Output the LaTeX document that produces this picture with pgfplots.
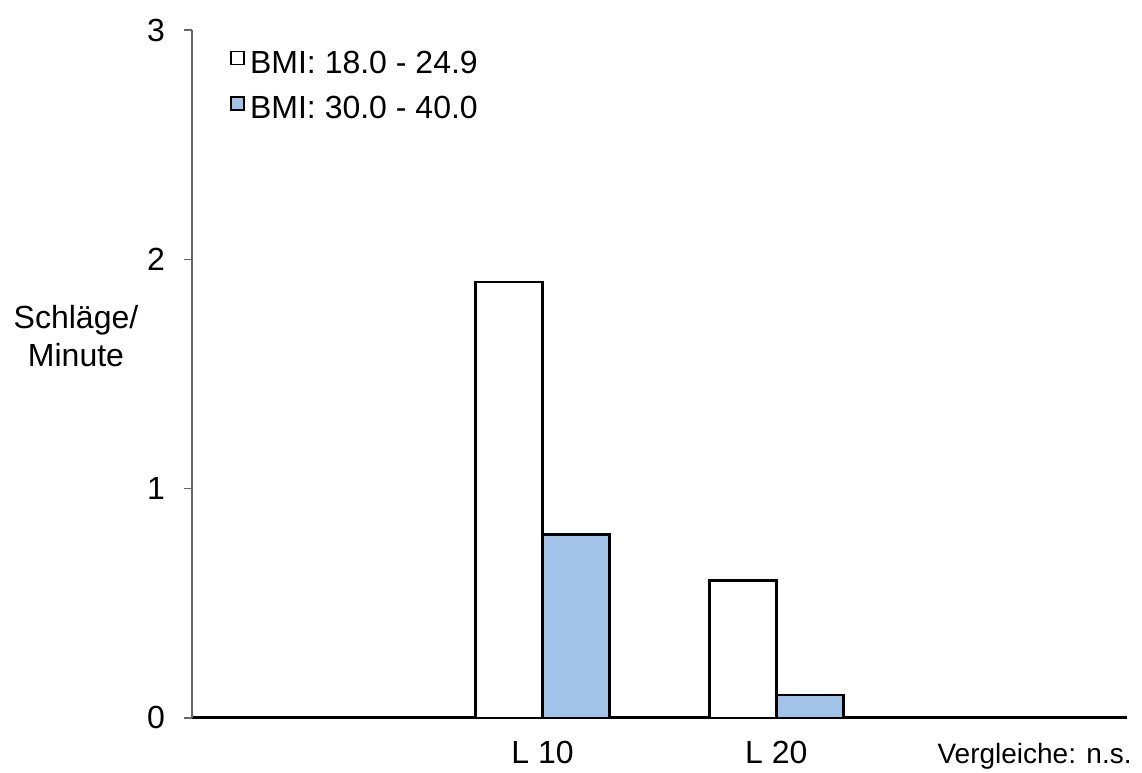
\documentclass[border=0pt]{standalone}
\usepackage{pgfplots}
\pgfplotsset{compat=1.18}
\usepackage{fontspec}
\setmainfont{Liberation Sans}
\definecolor{barblue}{RGB}{160,195,231}
\begin{document}
\begin{tikzpicture}
\begin{axis}[
  name=ax,
  clip=false,
  scale only axis,
  width=467.5pt, height=344pt,
  xmin=-0.5, xmax=3.5, ymin=0, ymax=3,
  axis lines=left,
  x axis line style={black, line width=1.5pt, -},
  y axis line style={black!60, line width=0.7pt, -},
  xtick={1,2}, xticklabels={L 10, L 20},
  major x tick style={draw=none},
  ytick={0,1,2,3},
  major y tick style={black!60, line width=0.7pt},
  tick align=outside, major tick length=4pt,
  ticklabel style={font=\fontsize{16}{19}\selectfont},
  /pgf/number format/assume math mode=true,
  xticklabel style={yshift=-4pt},
  yticklabel style={xshift=-6pt},
  ybar, bar width=0.2866,
  legend style={at={(axis cs:-0.337,2.92)}, anchor=north west, draw=none, fill=none,
    inner sep=0pt, row sep=8pt, font=\fontsize{16}{19}\selectfont, nodes={inner sep=1pt},
    /tikz/every odd column/.append style={column sep=1.5pt}},
  legend cell align=left,
  legend image code/.code={\draw[#1, line width=0.8pt] (0pt,-0.5pt) rectangle (6.5pt,6pt);},
]
\addplot[fill=white, draw=black, line width=1.2pt, bar shift=-0.1433] coordinates {(1,1.9) (2,0.6)};
\addplot[fill=barblue, draw=black, line width=1.2pt, bar shift=0.1433] coordinates {(1,0.8) (2,0.1)};
\legend{BMI: 18.0 - 24.9, BMI: 30.0 - 40.0}
\node[align=center, font=\fontsize{16}{19}\selectfont] at ([xshift=-58pt]axis cs:-0.5,1.666) {Schläge/\\Minute};
\node[anchor=base east, font=\fontsize{14}{17}\selectfont, inner sep=0pt] at ([xshift=2.5pt, yshift=-23pt]axis cs:3.5,0) {Vergleiche: n.s.};
\end{axis}
\pgfresetboundingbox
\path ([shift={(-96pt,-27.5pt)}]ax.south west) rectangle ([shift={(7.5pt,15pt)}]ax.north east);
\end{tikzpicture}
\end{document}
